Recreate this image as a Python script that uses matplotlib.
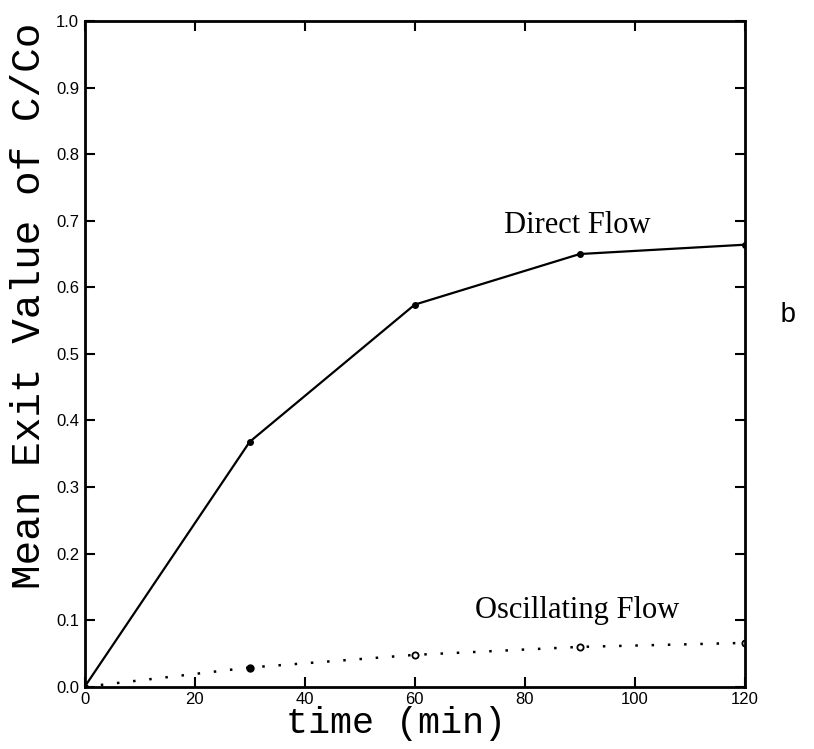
import numpy as np
import matplotlib.pyplot as plt

# time (min)
time = [0, 30, 60, 90, 120]
# mean exit value of C/Co
direct_flow = [0.0, 0.368, 0.574, 0.650, 0.664]
oscillating_flow = [0.0, 0.029, 0.048, 0.060, 0.066]

x_ticks = [0, 20, 40, 60, 80, 100, 120]
y_ticks = np.round(np.arange(0, 1.01, 0.1), 1)

fig = plt.figure(figsize=(8.14, 7.49), dpi=100)
ax = fig.add_axes([0.104, 0.083, 0.811, 0.889])

ax.plot(time, direct_flow, color='black', lw=1.6, marker='o', ms=4)
ax.plot(time, oscillating_flow, color='black', lw=1.8, ls=(0, (1, 5.5)))
# markers on the oscillating curve: first filled, then open
ax.plot(time[1:2], oscillating_flow[1:2], 'o', color='black', ms=5)
ax.plot(time[2:], oscillating_flow[2:], 'o', mfc='white', mec='black',
        mew=1.3, ms=4.5)

ax.set_xlim(0, 120)
ax.set_ylim(0, 1.0)
ax.set_xticks(x_ticks)
ax.set_yticks(y_ticks)
ax.set_yticklabels([f'{v:.1f}' for v in y_ticks])
ax.tick_params(direction='in', top=True, right=True, length=7, width=1.5,
               labelsize=12, pad=4)
for lab in ax.get_xticklabels() + ax.get_yticklabels():
    lab.set_family('Liberation Sans')
for sp in ax.spines.values():
    sp.set_linewidth(2)

ax.set_xlabel('time (min)', family='Liberation Mono', fontsize=26.5)
ax.set_ylabel('Mean Exit Value of C/Co', family='Liberation Mono',
              fontsize=29.5)
ax.xaxis.set_label_coords(0.471, -0.029)
ax.yaxis.set_label_coords(-0.055, 0.572)

ax.text(89.6, 0.682, 'Direct Flow', family='Liberation Serif', fontsize=22,
        ha='center', va='baseline')
ax.text(89.5, 0.104, 'Oscillating Flow', family='Liberation Serif',
        fontsize=22, ha='center', va='baseline')
fig.text(0.968, 0.58, 'b', family='Liberation Mono', fontsize=20,
         ha='center', va='center')

fig.savefig('out.png', dpi=100)
